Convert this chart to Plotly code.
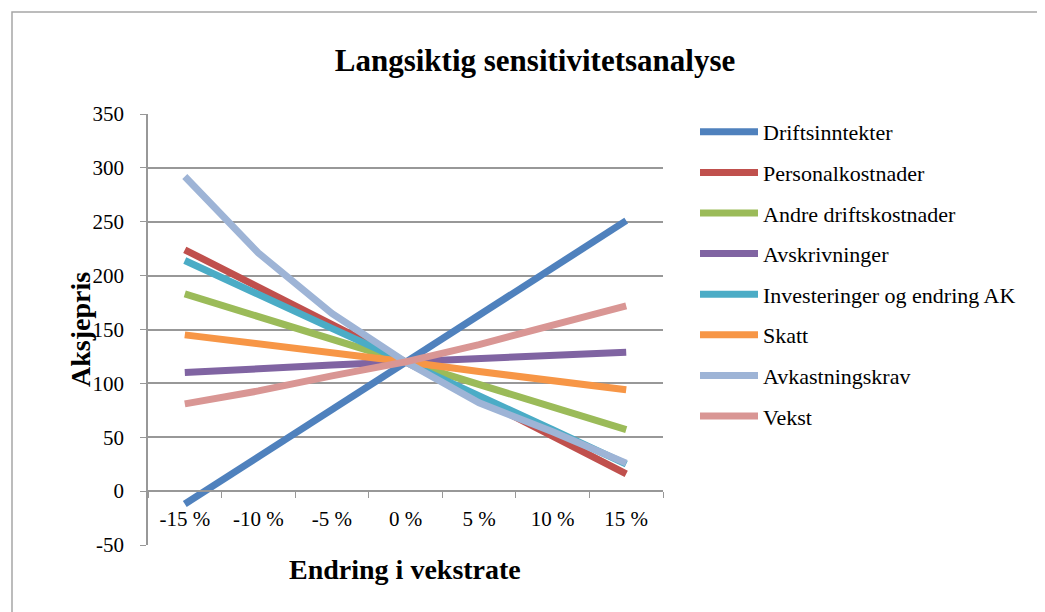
"""
Langsiktig sensitivitetsanalyse - line chart in Plotly
"""
import plotly.graph_objects as go

# categories (x axis)
endring = ['-15 %', '-10 %', '-5 %', '0 %', '5 %', '10 %', '15 %']

# share price per scenario
driftsinntekter = [-12, 32, 76, 120, 164, 208, 251]
personalkostnader = [224, 189, 155, 120, 86, 51, 16]
andre_driftskostnader = [183, 162, 141, 120, 99, 78, 57]
avskrivninger = [110, 114, 117, 120, 123, 126, 129]
investeringer = [214, 182, 151, 120, 89, 57, 25]
skatt = [145, 137, 128, 120, 111, 103, 94]
avkastningskrav = [292, 221, 165, 120, 82, 55, 26]
vekst = [81, 93, 107, 120, 136, 154, 172]

y_ticks = [-50, 0, 50, 100, 150, 200, 250, 300, 350]

series = [
    ('Driftsinntekter', driftsinntekter, '#4F81BD'),
    ('Personalkostnader', personalkostnader, '#C0504D'),
    ('Andre driftskostnader', andre_driftskostnader, '#9BBB59'),
    ('Avskrivninger', avskrivninger, '#8064A2'),
    ('Investeringer og endring AK', investeringer, '#4BACC6'),
    ('Skatt', skatt, '#F79646'),
    ('Avkastningskrav', avkastningskrav, '#9EB4D6'),
    ('Vekst', vekst, '#D99694'),
]

y_min, y_max = y_ticks[0], y_ticks[-1]
font_family = 'Liberation Serif'
grid_color = '#989898'

# the page body adds an 8px offset; plot area sits at 148..663 x 114..545 on the page
OFF = 8
PL, PR, PT, PB = 148, 663, 114, 545


def px(x):
    return (x - PL) / (PR - PL)


def py(y):
    return (PB - y) / (PB - PT)


fig = go.Figure()

for i, (name, values, color) in enumerate(series):
    fig.add_trace(go.Scatter(
        x=endring,
        y=values,
        mode='lines',
        name=name,
        legendgroup=f'g{i}',
        line=dict(color=color, width=7),
    ))

fig.update_layout(
    width=1045,
    height=612,
    margin=dict(l=PL - OFF, r=1045 - (PR - OFF), t=PT - OFF, b=612 - (PB - OFF)),
    paper_bgcolor='white',
    plot_bgcolor='white',
    font=dict(family=font_family, size=21, color='black'),
    title=dict(
        text='<b>Langsiktig sensitivitetsanalyse</b>',
        x=(535 - OFF) / 1045,
        xanchor='center',
        y=1 - (60 - OFF) / 612,
        yanchor='middle',
        font=dict(family=font_family, size=31, color='black'),
    ),
    showlegend=True,
    legend=dict(
        x=px(695),
        xanchor='left',
        y=py(111),
        yanchor='top',
        font=dict(family=font_family, size=22, color='black'),
        tracegroupgap=9,
        itemwidth=58,
        maxheight=1,
        bgcolor='rgba(0,0,0,0)',
    ),
    xaxis=dict(
        type='category',
        range=[-0.5, len(endring) - 0.5],
        anchor='free',
        position=(0 - y_min) / (y_max - y_min),
        showgrid=False,
        showline=True,
        linecolor=grid_color,
        linewidth=1.5,
        ticks='outside',
        tickson='boundaries',
        ticklen=6,
        tickcolor=grid_color,
        ticklabelstandoff=9,
        tickfont=dict(family=font_family, size=21),
        automargin=False,
    ),
    yaxis=dict(
        range=[y_min, y_max],
        tickvals=y_ticks,
        ticktext=[str(v) for v in y_ticks],
        showgrid=True,
        gridcolor=grid_color,
        gridwidth=1.5,
        zeroline=False,
        showline=True,
        linecolor=grid_color,
        linewidth=1.5,
        ticks='outside',
        ticklen=6,
        tickcolor=grid_color,
        ticklabelstandoff=12,
        tickfont=dict(family=font_family, size=21),
        automargin=False,
    ),
)

# axis titles
fig.add_annotation(
    text='<b>Endring i vekstrate</b>',
    xref='paper', yref='paper',
    x=px(405), y=py(569),
    xanchor='center', yanchor='middle',
    showarrow=False,
    font=dict(family=font_family, size=28, color='black'),
)
fig.add_annotation(
    text='<b>Aksjepris</b>',
    xref='paper', yref='paper',
    x=px(80), y=py(330),
    xanchor='center', yanchor='middle',
    textangle=-90,
    showarrow=False,
    font=dict(family=font_family, size=28, color='black'),
)

# chart frame
fig.add_shape(
    type='rect',
    xref='paper', yref='paper',
    x0=px(12), x1=px(1070),
    y0=py(640), y1=py(12),
    line=dict(color='#a6a6a6', width=1.5),
    fillcolor='rgba(0,0,0,0)',
    layer='below',
)

fig.write_html("out.html")
